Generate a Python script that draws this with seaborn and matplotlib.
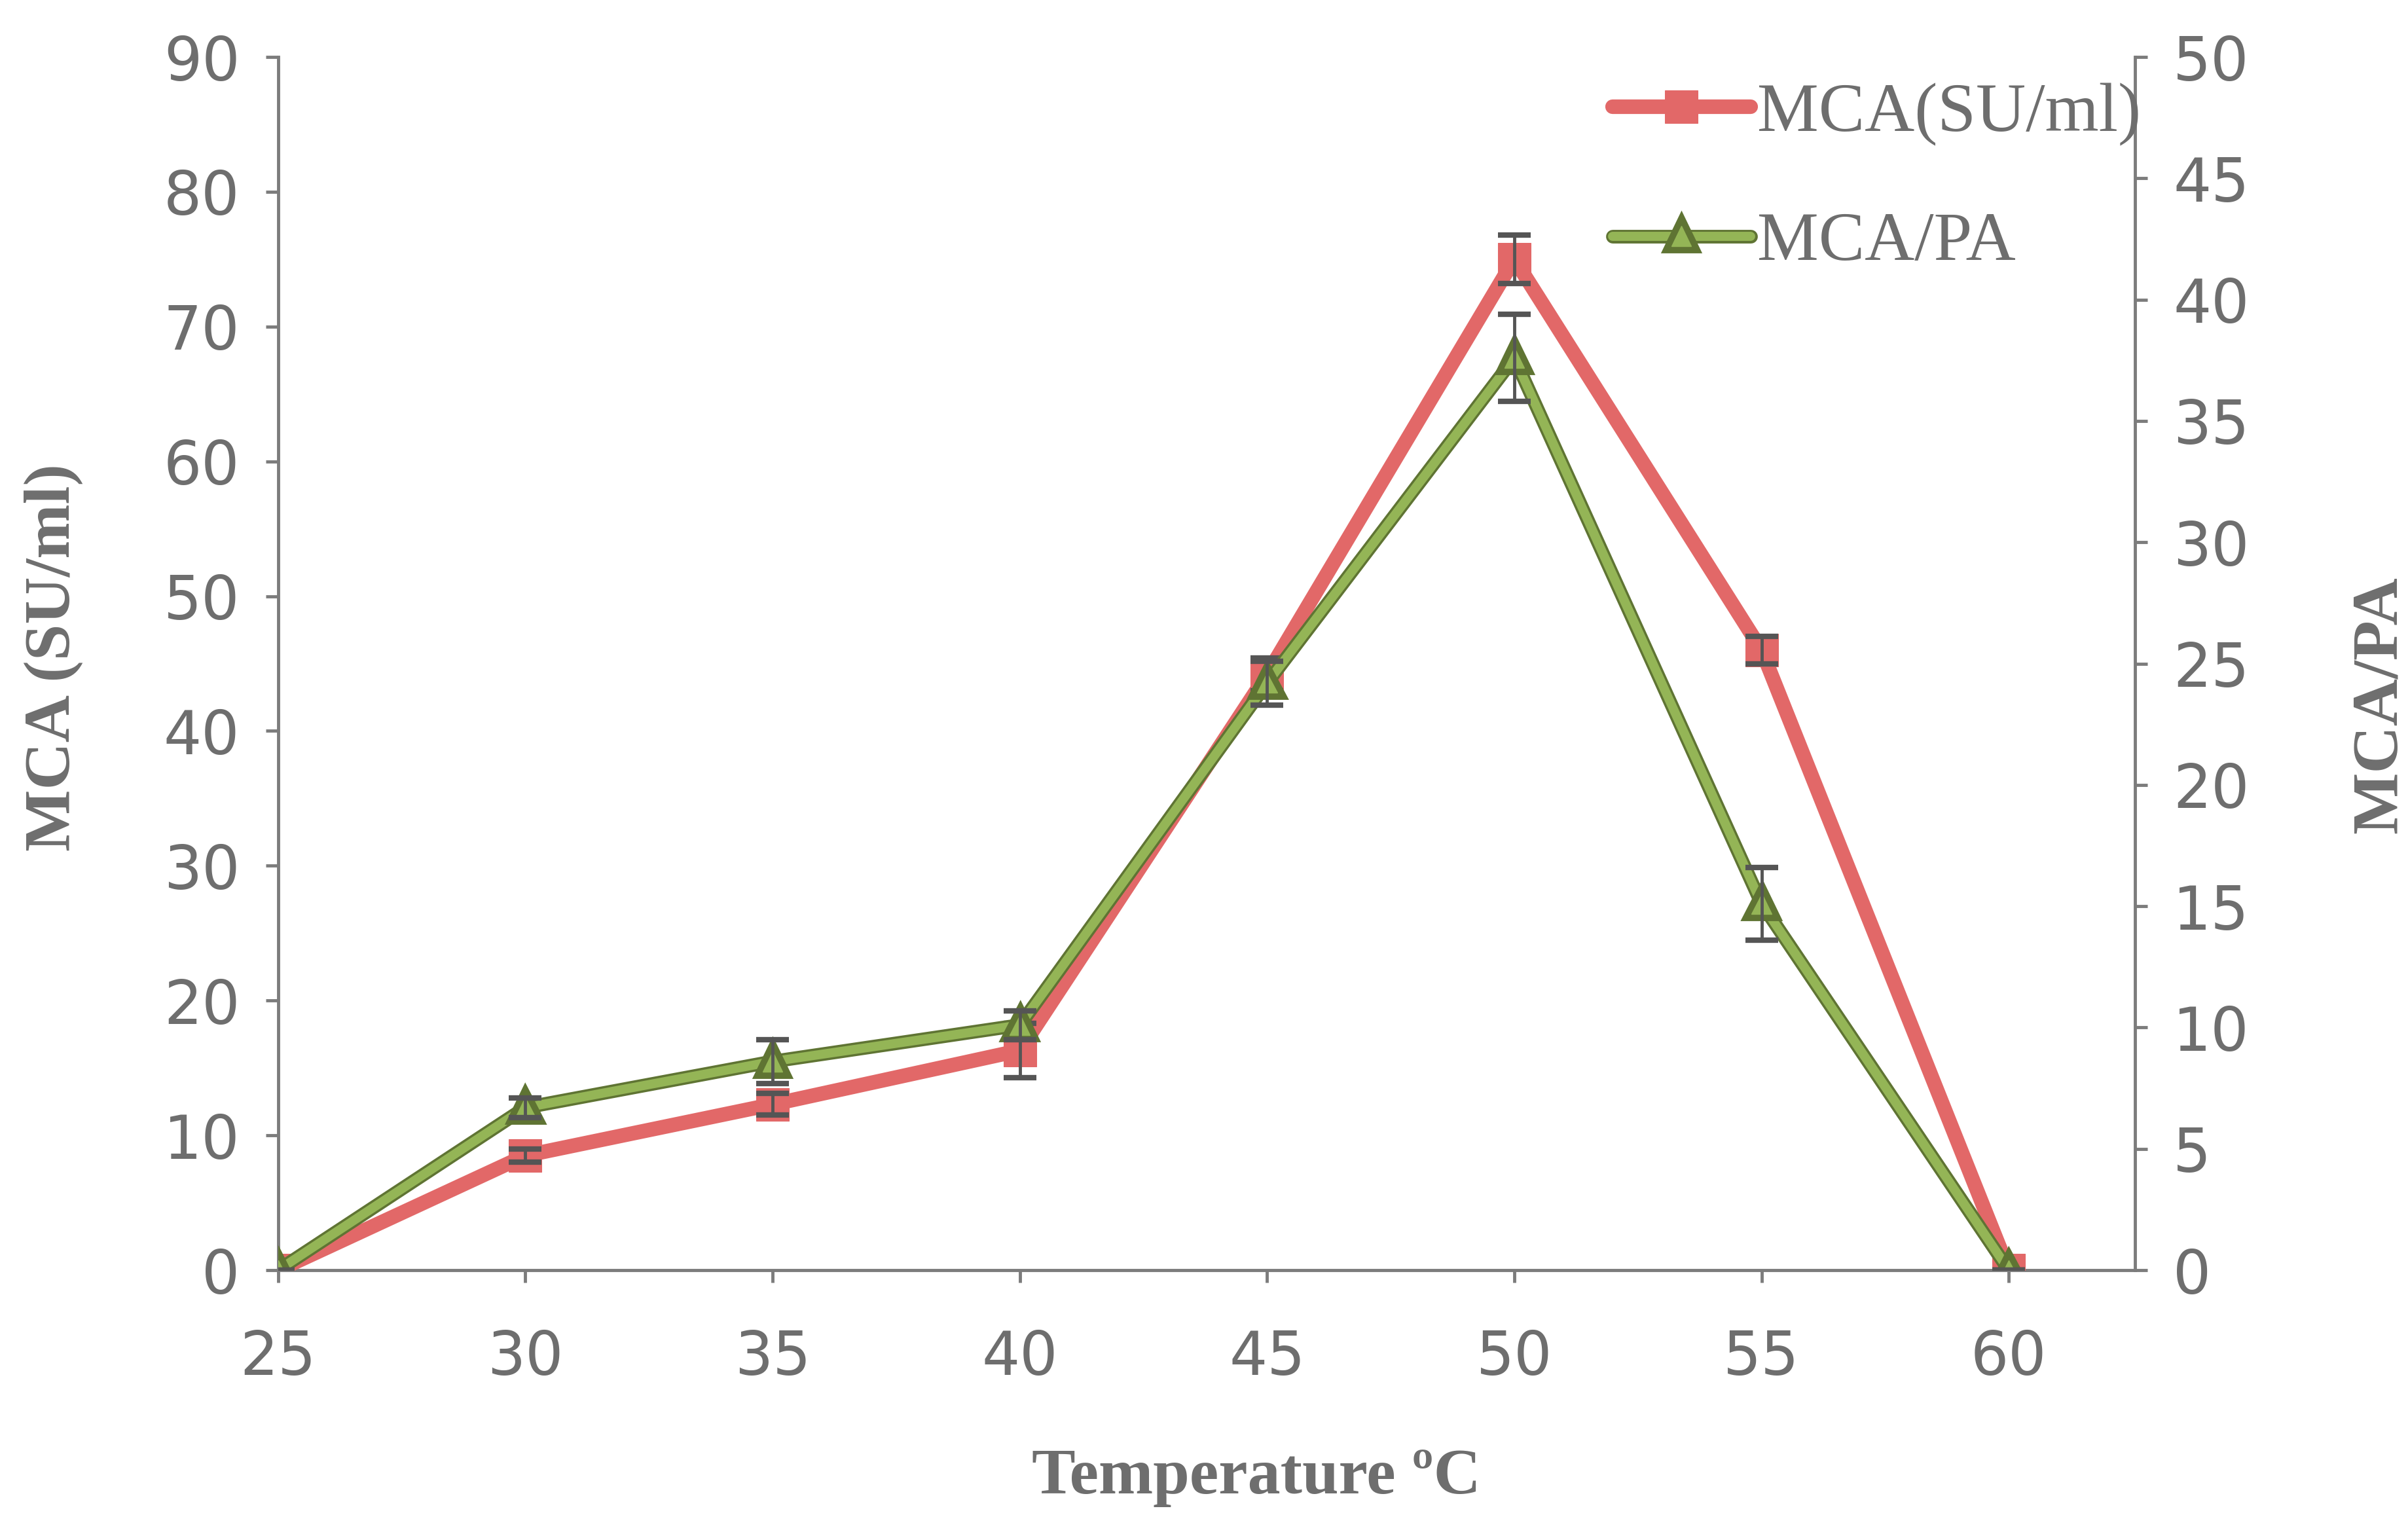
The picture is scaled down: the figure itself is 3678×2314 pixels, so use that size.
import matplotlib
matplotlib.use("Agg")
import matplotlib.pyplot as plt
import matplotlib.patheffects as pe
import seaborn as sns
import numpy as np

# ---- data ----
temperature = [25, 30, 35, 40, 45, 50, 55, 60]
mca_su_ml = [0, 8.5, 12.3, 16.3, 44.2, 75.0, 46.0, 0]
mca_su_ml_err = [0, 0.5, 0.8, 2.0, 1.2, 1.8, 1.0, 0]
mca_pa = [0, 6.7, 8.6, 10.1, 24.2, 37.6, 15.1, 0]
mca_pa_err = [0, 0.4, 0.9, 0.6, 0.9, 1.8, 1.5, 0]
x_ticks = [25, 30, 35, 40, 45, 50, 55, 60]
left_ticks = [0, 10, 20, 30, 40, 50, 60, 70, 80, 90]
right_ticks = [0, 5, 10, 15, 20, 25, 30, 35, 40, 45, 50]

sns.set_theme(style="white")
plt.rcParams["font.family"] = ["DejaVu Sans"]

GRAY = "#6e6e6e"
SPINE = "#7c7c7c"
RED = "#E26868"
GREEN = "#94B556"
GREEN_EDGE = "#5f7433"
ERR = "#555555"

fig = plt.figure(figsize=(36.78, 23.14), dpi=100)
fig.patch.set_facecolor("white")
ax = fig.add_axes([0.1155, 0.1616, 0.7711, 0.8008])
ax2 = ax.twinx()

# red series on left axis
sns.lineplot(x=temperature, y=mca_su_ml, ax=ax, color=RED, linewidth=16,
             marker="s", markersize=36, markeredgecolor=RED, label="MCA(SU/ml)",
             legend=False, zorder=3)
ax.errorbar(temperature, mca_su_ml, yerr=mca_su_ml_err, fmt="none",
            ecolor=ERR, elinewidth=3.5, capsize=18, capthick=6, zorder=4)

# green series on right axis
sns.lineplot(x=temperature, y=mca_pa, ax=ax2, color=GREEN, linewidth=10,
             marker="^", markersize=22, markeredgecolor=GREEN,
             markeredgewidth=1, label="MCA/PA", legend=False, zorder=3)
for ln in ax2.get_lines():
    ln.set_path_effects([pe.Stroke(linewidth=15, foreground=GREEN_EDGE), pe.Normal()])
ax2.errorbar(temperature, mca_pa, yerr=mca_pa_err, fmt="none",
             ecolor=ERR, elinewidth=3.5, capsize=18, capthick=6, zorder=4)

ax.set_xlim(25, 62.55)
ax.set_ylim(0, 90)
ax2.set_ylim(0, 50)
ax.set_xticks(x_ticks)
ax.set_xticklabels([str(t) for t in x_ticks])
ax.set_yticks(left_ticks)
ax.set_yticklabels([str(t) for t in left_ticks])
ax2.set_yticks(right_ticks)
ax2.set_yticklabels([str(t) for t in right_ticks])

for a in (ax, ax2):
    a.set_facecolor("none")
    a.grid(False)
    a.spines["top"].set_visible(False)
    for s in ("left", "right", "bottom"):
        a.spines[s].set_color(SPINE)
        a.spines[s].set_linewidth(3.5)
ax.spines["right"].set_visible(False)
ax2.spines["left"].set_visible(False)
ax2.spines["bottom"].set_visible(False)

ax.tick_params(axis="x", direction="out", length=14, width=3.5, color=SPINE,
               labelsize=66, labelcolor=GRAY, pad=50, bottom=True)
ax.tick_params(axis="y", direction="out", length=14, width=3.5, color=SPINE,
               labelsize=66, labelcolor=GRAY, pad=28, left=True)
ax2.tick_params(axis="y", direction="out", length=14, width=3.5, color=SPINE,
                labelsize=66, labelcolor=GRAY, pad=28, right=True)
ax.set_ylim(0, 90)
ax.set_xlim(25, 62.55)

serif = ["Liberation Serif", "DejaVu Serif"]
ax.set_ylabel("MCA (SU/ml)", fontsize=72, fontweight="bold", color=GRAY, family=serif)
ax.yaxis.label.set_verticalalignment("center")
ax.yaxis.set_label_coords(-0.121, 0.505)
ax2.set_ylabel("MCA/PA", fontsize=72, fontweight="bold", color=GRAY, family=serif)
ax2.yaxis.label.set_verticalalignment("center")
ax2.yaxis.set_label_coords(1.132, 0.466)
ax.set_xlabel("Temperature \u00baC", fontsize=72, fontweight="bold", color=GRAY, family=serif)
ax.xaxis.label.set_verticalalignment("center")
ax.xaxis.set_label_coords(0.527, -0.171)

h1, l1 = ax.get_legend_handles_labels()
h2, l2 = ax2.get_legend_handles_labels()
leg = ax2.legend(h1 + h2, l1 + l2, loc="upper left", bbox_to_anchor=(0.685, 1.03),
                 frameon=False, handlelength=2.0, handletextpad=0.1, labelspacing=0.95,
                 prop={"family": serif, "size": 76})
for t in leg.get_texts():
    t.set_color(GRAY)

fig.savefig("out.png", dpi=100, facecolor="white")
